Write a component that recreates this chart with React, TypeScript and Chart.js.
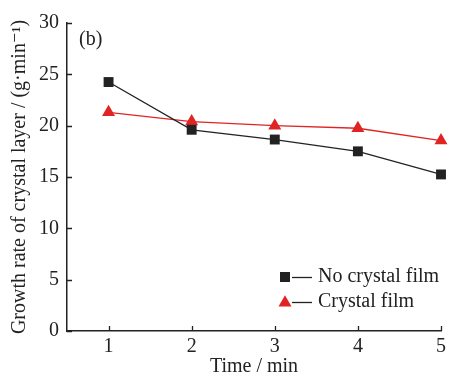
import React, { useEffect, useRef } from "react";
import { Chart, registerables } from "chart.js";

Chart.register(...registerables);

const times = [1, 2, 3, 4, 5];
const noFilm = [24.25, 19.6, 18.65, 17.5, 15.25];
const withFilm = [21.3, 20.4, 20.0, 19.75, 18.55];
const xTicks = [1, 2, 3, 4, 5];
const yTicks = [0, 5, 10, 15, 20, 25, 30];
const seriesLabels = ["No crystal film", "Crystal film"];
const panelLabel = "(b)";
const xTitle = "Time / min";
const yTitle = "Growth rate of crystal layer / (g·min⁻¹)";

const FONT = "'Liberation Serif', 'DejaVu Serif', serif";
const BLACK = "#222222";
const RED = "#e02424";

function drawSquare(ctx: CanvasRenderingContext2D, x: number, y: number, s: number, c: string) {
  ctx.fillStyle = c;
  ctx.fillRect(x - s / 2, y - s / 2, s, s);
}
function drawTri(ctx: CanvasRenderingContext2D, x: number, y: number, w: number, c: string) {
  const h = w * 0.85;
  ctx.fillStyle = c;
  ctx.beginPath();
  ctx.moveTo(x, y - h * 0.6);
  ctx.lineTo(x + w / 2, y + h * 0.4);
  ctx.lineTo(x - w / 2, y + h * 0.4);
  ctx.closePath();
  ctx.fill();
}

const decor = {
  id: "decor",
  afterDraw(chart: any) {
    const ctx = chart.ctx as CanvasRenderingContext2D;
    const xs = chart.scales.x;
    const ys = chart.scales.y;
    const a = chart.chartArea;
    ctx.save();
    ctx.strokeStyle = BLACK;
    ctx.lineWidth = 1.3;
    ctx.beginPath();
    for (const t of xTicks) {
      const px = Math.round(xs.getPixelForValue(t)) + 0.5;
      ctx.moveTo(px, a.bottom);
      ctx.lineTo(px, a.bottom - 5);
    }
    for (const t of yTicks) {
      const py = Math.round(ys.getPixelForValue(t)) + 0.5;
      ctx.moveTo(a.left, py);
      ctx.lineTo(a.left + 5, py);
    }
    ctx.stroke();
    ctx.fillStyle = BLACK;
    ctx.font = `20px ${FONT}`;
    ctx.textBaseline = "middle";
    ctx.textAlign = "left";
    ctx.fillText(panelLabel, 79, 40);
    const lx = 285;
    const rows = [277, 302];
    ctx.lineWidth = 1.3;
    drawSquare(ctx, lx, rows[0], 10, BLACK);
    ctx.strokeStyle = BLACK;
    ctx.beginPath();
    ctx.moveTo(292, rows[0] + 0.5);
    ctx.lineTo(312, rows[0] + 0.5);
    ctx.stroke();
    drawTri(ctx, lx, rows[1], 13, RED);
    ctx.beginPath();
    ctx.moveTo(292, rows[1] + 0.5);
    ctx.lineTo(312, rows[1] + 0.5);
    ctx.stroke();
    ctx.fillStyle = BLACK;
    ctx.fillText(seriesLabels[0], 318, rows[0]);
    ctx.fillText(seriesLabels[1], 318, rows[1]);
    ctx.restore();
  },
};

export default function App() {
  const ref = useRef<HTMLCanvasElement | null>(null);
  useEffect(() => {
    if (!ref.current) return;
    const chart = new Chart(ref.current, {
      type: "line",
      data: {
        datasets: [
          {
            label: seriesLabels[0],
            data: times.map((t, i) => ({ x: t, y: noFilm[i] })),
            borderColor: BLACK,
            backgroundColor: BLACK,
            borderWidth: 1.3,
            pointStyle: "rect",
            pointRadius: 7,
            pointBorderWidth: 0,
            tension: 0,
            clip: false,
          },
          {
            label: seriesLabels[1],
            data: times.map((t, i) => ({ x: t, y: withFilm[i] })),
            borderColor: RED,
            backgroundColor: RED,
            borderWidth: 1.3,
            pointStyle: "triangle",
            pointRadius: 7.5,
            pointBorderWidth: 0,
            tension: 0,
            clip: false,
          },
        ],
      },
      options: {
        animation: false,
        responsive: false,
        layout: { padding: { top: 23, right: 10, left: 0, bottom: 0 } },
        plugins: { legend: { display: false }, tooltip: { enabled: false } },
        scales: {
          x: {
            type: "linear",
            min: 0.5,
            max: 5,
            afterBuildTicks: (s: any) => {
              s.ticks = xTicks.map((v) => ({ value: v }));
            },
            grid: { display: false, drawTicks: false },
            border: { display: true, color: BLACK, width: 1.5 },
            ticks: { color: BLACK, font: { family: FONT, size: 20 }, padding: 4 },
            title: { display: true, text: xTitle, color: BLACK, font: { family: FONT, size: 20, lineHeight: 1.0 }, padding: { top: 4, bottom: 0 } },
            afterFit: (s: any) => {
              s.height = 46;
            },
          },
          y: {
            type: "linear",
            min: 0,
            max: 30,
            afterBuildTicks: (s: any) => {
              s.ticks = yTicks.map((v) => ({ value: v }));
            },
            grid: { display: false, drawTicks: false },
            border: { display: true, color: BLACK, width: 1.5 },
            ticks: { color: BLACK, font: { family: FONT, size: 20 }, padding: 8 },
            title: { display: true, text: yTitle, color: BLACK, font: { family: FONT, size: 20 }, padding: { top: 8, bottom: 0 } },
            afterFit: (s: any) => {
              s.width = 67;
            },
          },
        },
      },
      plugins: [decor],
    } as any);
    return () => chart.destroy();
  }, []);
  return (
    <div style={{ position: "fixed", left: 0, top: 0, width: 451, height: 377, background: "#fff" }}>
      <canvas ref={ref} width={451} height={377} style={{ display: "block" }} />
    </div>
  );
}
